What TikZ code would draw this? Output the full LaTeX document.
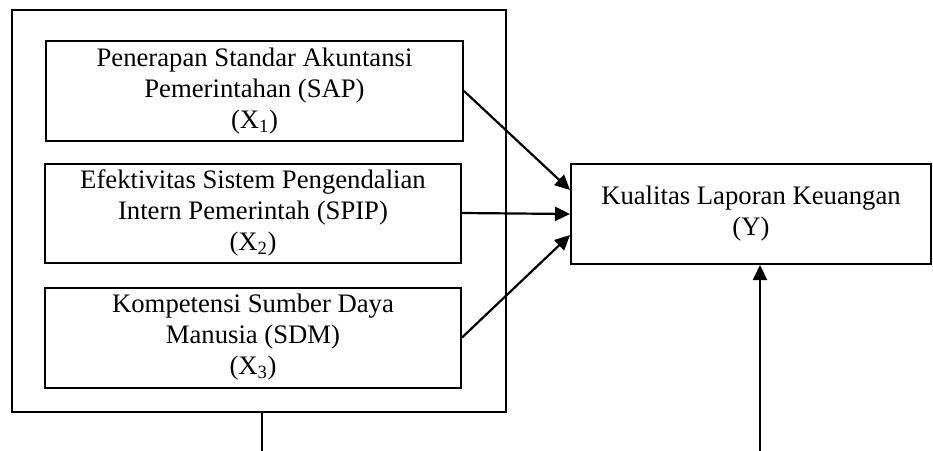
\documentclass[tikz,border=0pt]{standalone}
\usepackage{fontspec}
\setmainfont{Liberation Serif}
\usetikzlibrary{arrows.meta,calc}
\begin{document}
\begin{tikzpicture}[x=1pt,y=-1pt,
  box/.style={draw,line width=2pt,rectangle,align=center,inner sep=0pt,
    font=\fontsize{26.7}{31}\selectfont},
  conn/.style={line width=2.2pt,-{Triangle[length=15pt,width=14pt]}}]
\useasboundingbox (0,0) rectangle (933,450);
\node[box,minimum width=494pt,minimum height=402pt] (outer) at (259,211) {};
\node[box,minimum width=417pt,minimum height=100pt] (b1) at (254.5,91)
  {Penerapan Standar Akuntansi\\Pemerintahan (SAP)\\(X\textsubscript{1})};
\node[box,minimum width=416pt,minimum height=99pt] (b2) at (253,213)
  {Efektivitas Sistem Pengendalian\\Intern Pemerintah (SPIP)\\(X\textsubscript{2})};
\node[box,minimum width=416pt,minimum height=100pt] (b3) at (253,337.5)
  {Kompetensi Sumber Daya\\Manusia (SDM)\\(X\textsubscript{3})};
\node[box,minimum width=360pt,minimum height=100pt] (y) at (751,214)
  {Kualitas Laporan Keuangan\\(Y)};
\coordinate (lineend) at ($(outer.south)+(3,38)$);
\coordinate (arrstart) at ($(y.south)+(9,186)$);
\draw[conn] (b1.east) -- ($(y.west)+(0,-24)$);
\draw[conn] (b2.east) -- (y.west);
\draw[conn] (b3.east) -- ($(y.west)+(0,21)$);
\draw[line width=2.2pt] ($(outer.south)+(3,0)$) -- (lineend);
\draw[conn] (arrstart) -- ($(y.south)+(9,0)$);
\end{tikzpicture}
\end{document}
